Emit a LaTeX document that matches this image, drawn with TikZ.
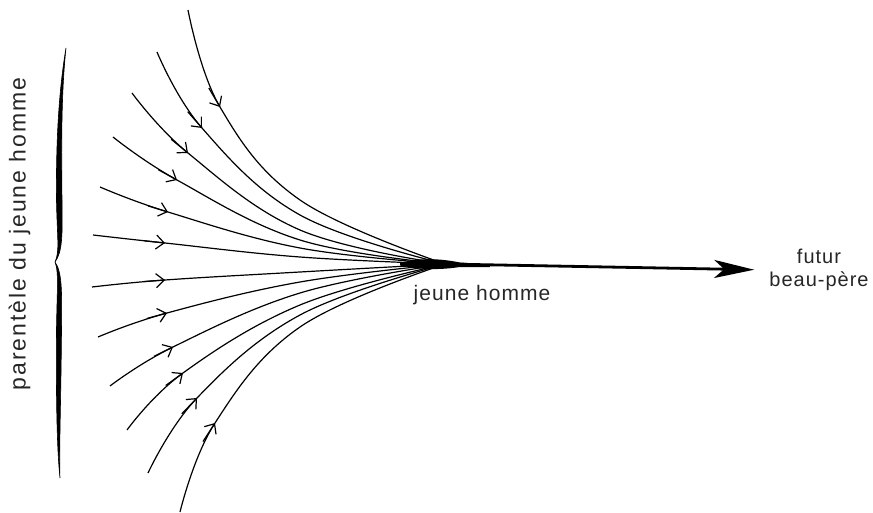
\documentclass[tikz,border=0pt]{standalone}
\usepackage{fontspec}
\newfontfamily\labelfont[LetterSpace=5]{Liberation Sans}
\newfontfamily\sidefont[LetterSpace=8.5]{Liberation Sans}
\usetikzlibrary{arrows.meta,calc}

\tikzset{
  flow/.style={line width=1.2pt},
  barb/.style={line width=1.2pt,-{Straight Barb[length=8pt,width=14pt]}},
  labeltext/.style={font=\labelfont\fontsize{21}{23}\selectfont, text=black!85, inner sep=0pt},
}

\begin{document}
\begin{tikzpicture}[x=1pt,y=-1pt]
  \useasboundingbox (0,0) rectangle (873,513);
  % point de convergence
  \coordinate (jh) at (445,264);
  % lignes de la parentele
  \foreach \sx/\sy/\ax/\ay/\py in {
      188/10/220/107/200,
      157/52/202/128/215,
      132/93/188/153/230,
      113/137/177/180/240,
      100/187/168/212/248,
      93/235/165/243/257,
      92/287/165/280/272,
      98/337/167/313/282,
      110/386/173/347/293,
      127/430/183/373/305,
      148/473/197/398/315,
      180/512/215/423/327}{
    \draw[flow] plot[smooth,tension=0.65] coordinates {(\sx,\sy) (\ax,\ay) (300,\py) (jh)};
    \draw[barb] ($(\ax,\ay)+0.1*(\sx,\sy)-0.1*(300,\py)$) -- (\ax,\ay);
  }
  \fill (400,263) .. controls (420,257.5) and (440,258.5) .. (460,262.5) -- (490,264.5)
    -- (490,267.2) -- (460,267) .. controls (440,270) and (420,270) .. (400,265.5) -- cycle;
  % labels
  \node[labeltext,anchor=base] (jhlabel) at (482,300) {jeune homme};
  \node[labeltext,align=center,font=\labelfont\fontsize{20}{23}\selectfont] (futur) at (819,270) {futur\\beau-père};
  \node[labeltext,rotate=90,anchor=base,font=\sidefont\fontsize{23}{25}\selectfont] (parentele) at (25.5,234) {parentèle du jeune homme};
  % fleche principale
  \draw[line width=2.8pt,-{Stealth[length=40pt,width=18pt,inset=10pt]},shorten >=15pt] (jh) -- (futur.west);
  % accolade
  \filldraw[line width=0.6pt]
    (66,48) .. controls (58,95) and (56,150) .. (56.5,200)
    .. controls (57,235) and (60,252) .. (55,262)
    .. controls (59,272) and (57,290) .. (56.5,330)
    .. controls (56,400) and (57,450) .. (60,478)
    .. controls (59,450) and (61,400) .. (61.5,330)
    .. controls (62,290) and (62,272) .. (55,262)
    .. controls (62.5,252) and (62.5,235) .. (62,200)
    .. controls (61.5,150) and (61,95) .. (66,48) -- cycle;
\end{tikzpicture}
\end{document}
